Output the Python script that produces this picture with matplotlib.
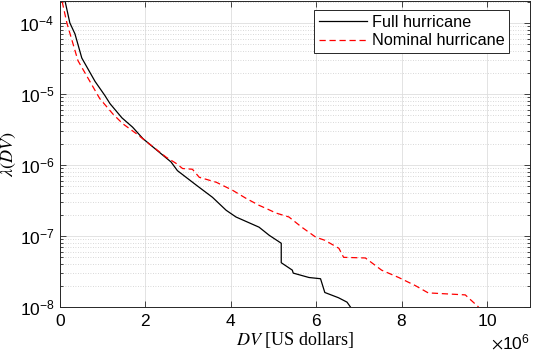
import numpy as np
import matplotlib.pyplot as plt
from matplotlib.ticker import LogLocator, NullFormatter, MultipleLocator

# Loss curves (DV in US dollars x 1e6, lambda = annual rate)
full_dv = [0.12, 0.23, 0.35, 0.51, 0.82, 1.05, 1.17, 1.45, 1.70, 1.94, 2.33, 2.60, 2.75,
           3.19, 3.57, 3.89, 4.12, 4.66, 4.90, 5.18, 5.18, 5.44, 5.46, 5.83, 6.10,
           6.20, 6.52, 6.72, 6.80]
full_rate = [2.0e-4, 1.0e-4, 7.0e-5, 3.2e-5, 1.5e-5, 9.5e-6, 7.3e-6, 4.6e-6, 3.4e-6, 2.35e-6,
             1.5e-6, 1.1e-6, 8.3e-7, 5.2e-7, 3.5e-7, 2.3e-7, 1.85e-7, 1.33e-7, 1.02e-7,
             7.9e-8, 4.2e-8, 3.3e-8, 3.0e-8, 2.6e-8, 2.5e-8, 1.6e-8, 1.35e-8, 1.17e-8, 1.0e-8]

nom_dv = [0.05, 0.16, 0.42, 0.93, 1.24, 1.47, 1.79, 2.49, 2.72, 2.87, 3.10, 3.26, 3.66,
          4.04, 4.35, 4.66, 4.82, 5.06, 5.36, 5.66, 5.99, 6.20, 6.53, 6.64, 7.15, 7.53,
          7.93, 8.32, 8.62, 9.49, 9.56, 9.80]
nom_rate = [2.0e-4, 1.0e-4, 2.94e-5, 8.6e-6, 5.2e-6, 3.8e-6, 2.75e-6, 1.28e-6, 1.05e-6,
            8.9e-7, 8.7e-7, 6.7e-7, 5.7e-7, 4.4e-7, 3.4e-7, 2.7e-7, 2.45e-7, 2.1e-7,
            1.85e-7, 1.33e-7, 9.6e-8, 8.7e-8, 6.7e-8, 5.0e-8, 4.9e-8, 3.3e-8, 2.6e-8,
            2.0e-8, 1.58e-8, 1.48e-8, 1.35e-8, 1.0e-8]

plt.rcParams['font.family'] = 'Liberation Sans'
plt.rcParams['font.serif'] = ['Liberation Serif']
plt.rcParams['mathtext.fontset'] = 'stix'

fig = plt.figure(figsize=(5.33, 3.58), dpi=100)
ax = fig.add_axes([0.1126, 0.1425, 0.8814, 0.855])

ax.plot(np.array(full_dv) * 1e6, full_rate, color='k', lw=0.9, label='Full hurricane')
ax.plot(np.array(nom_dv) * 1e6, nom_rate, color='r', lw=0.9, ls=(0, (5, 3)),
        label='Nominal hurricane')

ax.set_yscale('log')
ax.set_xlim(0, 11e6)
ax.set_ylim(1e-8, 2.04e-4)
ax.xaxis.set_major_locator(MultipleLocator(2e6))
ax.yaxis.set_major_locator(LogLocator(base=10, numticks=10))
ax.yaxis.set_minor_locator(LogLocator(base=10, subs=np.arange(2, 10), numticks=10))
ax.yaxis.set_minor_formatter(NullFormatter())
ax.ticklabel_format(axis='x', style='sci', scilimits=(6, 6), useMathText=True)

ax.tick_params(which='both', direction='in', top=True, right=True, labelsize=12.5,
               width=0.6, color='#262626')
ax.tick_params(which='major', length=4, pad=4)
ax.tick_params(which='minor', length=2)
ax.xaxis.get_offset_text().set_fontsize(12.5)

ax.grid(which='major', color='#dedede', lw=0.6, ls='-')
ax.grid(which='minor', axis='y', color='#cccccc', lw=0.6, ls=(0, (1, 2)))
ax.set_axisbelow(True)
for s in ax.spines.values():
    s.set_linewidth(0.7)
    s.set_color('#262626')

ax.set_xlabel(r'$DV$ [US dollars]', family='serif', fontsize=13, labelpad=1)
ax.set_ylabel(r'$\lambda(DV)$', family='serif', fontsize=13, labelpad=1)

leg = ax.legend(loc='upper right', bbox_to_anchor=(0.963, 0.98), fontsize=11.7,
                fancybox=False, framealpha=1, edgecolor='#262626',
                handlelength=2.95, borderpad=0.3, labelspacing=0.2, handletextpad=0.3,
                borderaxespad=0.2)
leg.get_frame().set_linewidth(0.7)

fig.savefig('out.png', dpi=100)
